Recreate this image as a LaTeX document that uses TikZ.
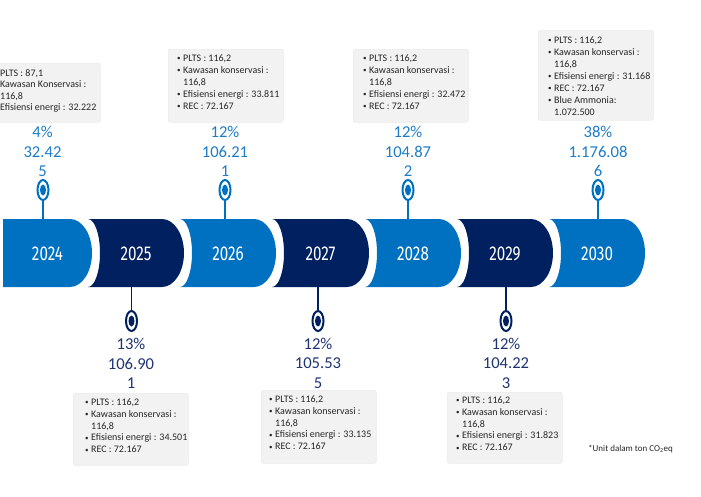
\documentclass[tikz,border=0pt]{standalone}
\usepackage{fontspec}
\setmainfont{Carlito}
\newfontfamily\yearfont[FakeStretch=0.76]{Fira Sans}
\usetikzlibrary{shapes.geometric}
\definecolor{lblue}{RGB}{0,112,192}
\definecolor{dblue}{RGB}{0,32,96}
\definecolor{ltxt}{RGB}{28,124,200}
\definecolor{dtxt}{RGB}{30,52,115}
\definecolor{boxtxt}{RGB}{38,38,38}
\newcommand{\bl}[1]{\makebox[6pt][l]{\raisebox{0.6pt}{\fontsize{7}{7}\selectfont\textbullet}}#1}
\newcommand{\ct}[1]{\hspace*{6pt}#1}
\tikzset{
  yearlbl/.style={font=\yearfont\fontsize{20}{20}\selectfont, text=white, inner sep=0},
  val/.style={font=\fontsize{16.6}{19.6}\selectfont, align=center, inner sep=0, anchor=north},
  infobox/.style={fill=black!5, draw=black!8, line width=0.6pt, rounded corners=2pt, inner sep=0, anchor=north west},
  infotxt/.style={font=\fontsize{10}{12}\selectfont, text=boxtxt, align=left, inner sep=0, anchor=north west},
  ring/.style={ellipse, draw, line width=2pt, inner sep=0, minimum width=11, minimum height=20},
  stem/.style={line width=1.8pt},
}
% segment: #1 = L, #2 = R
\newcommand{\segpath}[2]{(#1,219) -- ({#2-22},219) .. controls ({#2-9.9},219) and (#2,234.2) .. (#2,253)
  .. controls (#2,271.8) and ({#2-9.9},287) .. ({#2-22},287) -- (#1,287)
  .. controls ({#1+6.6},287) and ({#1+12},271.8) .. ({#1+12},253)
  .. controls ({#1+12},234.2) and ({#1+6.6},219) .. (#1,219) -- cycle}
\begin{document}
\begin{tikzpicture}[x=1pt,y=-1pt]
\useasboundingbox (0,0) rectangle (701,496);
% band
\fill[lblue] (3,219) -- (70,219) .. controls (82.1,219) and (92,234.2) .. (92,253)
  .. controls (92,271.8) and (82.1,287) .. (70,287) -- (3,287) -- cycle;
\fill[dblue] \segpath{88}{184};
\fill[lblue] \segpath{180}{276};
\fill[dblue] \segpath{272}{369};
\fill[lblue] \segpath{365}{461};
\fill[dblue] \segpath{457}{553};
\fill[lblue] \segpath{549}{645};
% years
\node[yearlbl] (y24) at (47.5,254) {2024};
\node[yearlbl] (y25) at (136,254) {2025};
\node[yearlbl] (y26) at (228,254) {2026};
\node[yearlbl] (y27) at (320.5,254) {2027};
\node[yearlbl] (y28) at (413,254) {2028};
\node[yearlbl] (y29) at (505,254) {2029};
\node[yearlbl] (y30) at (597,254) {2030};
% top pins
\foreach \n/\x in {24/43,26/225,28/408,30/598}{
  \coordinate (s\n) at (\x,219);
  \node[ring, draw=lblue] (p\n) at (\x,190) {};
  \fill[lblue] (p\n.center) ellipse [x radius=3, y radius=5.5];
  \draw[stem, lblue] (p\n.south) -- (s\n);
}
% bottom pins
\foreach \n/\x in {25/131.5,27/318,29/506}{
  \coordinate (s\n) at (\x,287);
  \node[ring, draw=dblue] (p\n) at (\x,321) {};
  \fill[dblue] (p\n.center) ellipse [x radius=3, y radius=5.5];
  \draw[stem, dblue] (s\n) -- (p\n.north);
}
% values top
\node[val, text=ltxt] (v24) at (42.5,126) {4\%\\32.42\\5};
\node[val, text=ltxt] (v26) at (225,126) {12\%\\106.21\\1};
\node[val, text=ltxt] (v28) at (408,126) {12\%\\104.87\\2};
\node[val, text=ltxt] (v30) at (598,126) {38\%\\1.176.08\\6};
% values bottom
\node[val, text=dtxt] (v25) at (131,338) {13\%\\106.90\\1};
\node[val, text=dtxt] (v27) at (318,337.5) {12\%\\105.53\\5};
\node[val, text=dtxt] (v29) at (506,337.5) {12\%\\104.22\\3};
% info boxes top
\node[infobox, minimum width=110, minimum height=59] (b24) at (-10,63) {};
\node[infotxt, font=\fontsize{10}{11.3}\selectfont] (t24) at (0,69.6) {PLTS : 87,1\\Kawasan Konservasi :\\116,8\\Efisiensi energi : 32.222};
\node[infobox, minimum width=115, minimum height=73] (b26) at (168,49) {};
\node[infotxt] (t26) at (177,54.5) {\bl{PLTS : 116,2}\\\bl{Kawasan konservasi :}\\\ct{116,8}\\\bl{Efisiensi energi : 33.811}\\\bl{REC : 72.167}};
\node[infobox, minimum width=115, minimum height=73] (b28) at (353,49) {};
\node[infotxt] (t28) at (363,54.5) {\bl{PLTS : 116,2}\\\bl{Kawasan konservasi :}\\\ct{116,8}\\\bl{Efisiensi energi : 32.472}\\\bl{REC : 72.167}};
\node[infobox, minimum width=115, minimum height=90] (b30) at (538,30) {};
\node[infotxt] (t30) at (548,36.5) {\bl{PLTS : 116,2}\\\bl{Kawasan konservasi :}\\\ct{116,8}\\\bl{Efisiensi energi : 31.168}\\\bl{REC : 72.167}\\\bl{Blue Ammonia:}\\\ct{1.072.500}};
% info boxes bottom
\node[infobox, minimum width=115, minimum height=72] (b25) at (73,393) {};
\node[infotxt, font=\fontsize{10}{11.8}\selectfont] (t25) at (85,398.5) {\bl{PLTS : 116,2}\\\bl{Kawasan konservasi :}\\\ct{116,8}\\\bl{Efisiensi energi : 34.501}\\\bl{REC : 72.167}};
\node[infobox, minimum width=115, minimum height=73] (b27) at (261,390) {};
\node[infotxt, font=\fontsize{10}{11.8}\selectfont] (t27) at (269,395.5) {\bl{PLTS : 116,2}\\\bl{Kawasan konservasi :}\\\ct{116,8}\\\bl{Efisiensi energi : 33.135}\\\bl{REC : 72.167}};
\node[infobox, minimum width=115, minimum height=71] (b29) at (447,392) {};
\node[infotxt, font=\fontsize{10}{11.8}\selectfont] (t29) at (456,396.5) {\bl{PLTS : 116,2}\\\bl{Kawasan konservasi :}\\\ct{116,8}\\\bl{Efisiensi energi : 31.823}\\\bl{REC : 72.167}};
% footnote
\node[font=\fontsize{9}{10}\selectfont, text=boxtxt, inner sep=0, anchor=west] (fn) at (588,449) {*Unit dalam ton CO\textsubscript{2}eq};
\end{tikzpicture}
\end{document}
